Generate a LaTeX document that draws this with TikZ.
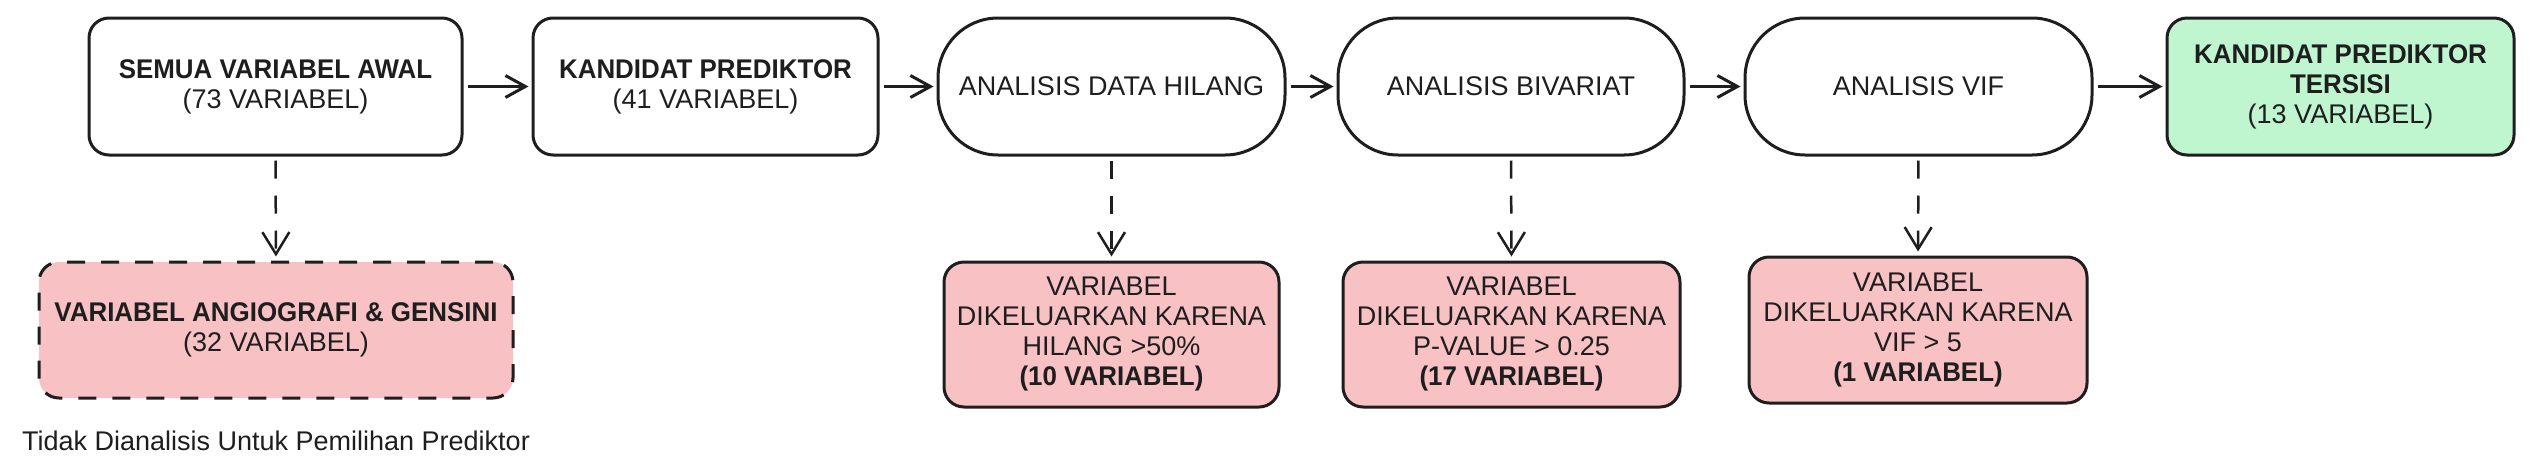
\documentclass[tikz,border=0pt]{standalone}
\usepackage{fontspec}
\setmainfont{Liberation Sans}[BoldFeatures={FakeStretch=0.96}]
\usetikzlibrary{arrows.meta}
\definecolor{ink}{HTML}{1E1E1E}
\definecolor{tolak}{HTML}{F8C1C4}
\definecolor{lolos}{HTML}{BFF6D0}

\begin{document}
\begin{tikzpicture}[x=0.5pt, y=-0.5pt,
    every node/.style={font=\fontsize{13.5}{15}\selectfont, align=center, text=ink},
    kotak/.style={draw=ink, line width=1.5pt, rounded corners=10pt, minimum height=68.5pt, inner sep=2pt},
    proses/.style={kotak, rounded corners=30pt},
    buang/.style={kotak, fill=tolak, minimum height=72.5pt},
    alur/.style={draw=ink, line width=1.5pt, -{Straight Barb[length=10pt,width=11pt]}, shorten <=2pt, shorten >=1.5pt},
    keluar/.style={draw=ink, line width=1.25pt, dash pattern=on 9pt off 8.5pt, -{Straight Barb[length=11pt,width=13.5pt]}, shorten <=2pt, shorten >=2pt}]
  \useasboundingbox (0,0) rectangle (2534,472);

  % jalur utama
  \node [kotak, minimum width=186.5pt] (semua) at (275.5,86.5) {\textbf{SEMUA VARIABEL AWAL}\\(73 VARIABEL)};
  \node [kotak, minimum width=172.5pt] (kandidat) at (705.5,86.5) {\textbf{KANDIDAT PREDIKTOR}\\(41 VARIABEL)};
  \node [proses, minimum width=173.5pt] (hilang) at (1111.5,86.5) {ANALISIS DATA HILANG};
  \node [proses, minimum width=173pt] (bivariat) at (1511,86.5) {ANALISIS BIVARIAT};
  \node [proses, minimum width=173.5pt] (vif) at (1918.5,86.5) {ANALISIS VIF};
  \node [kotak, fill=lolos, minimum width=173.5pt] (tersisi) at (2340.5,86.5) {\textbf{KANDIDAT PREDIKTOR}\\\textbf{TERSISI}\\(13 VARIABEL)};

  \draw [alur] (semua) -- (kandidat);
  \draw [alur] (kandidat) -- (hilang);
  \draw [alur] (hilang) -- (bivariat);
  \draw [alur] (bivariat) -- (vif);
  \draw [alur] (vif) -- (tersisi);

  % variabel yang dikeluarkan
  \node [kotak, fill=tolak, dash pattern=on 9pt off 8pt, minimum width=237pt, minimum height=68pt] (angio) at (276,330) {\textbf{VARIABEL ANGIOGRAFI \& GENSINI}\\(32 VARIABEL)};
  \node (catatan) at (276,441) {Tidak Dianalisis Untuk Pemilihan Prediktor};
  \node [buang, minimum width=167.5pt] (kelhilang) at (1111.5,334.5) {VARIABEL\\DIKELUARKAN KARENA\\HILANG >50\%\\\textbf{(10 VARIABEL)}};
  \node [buang, minimum width=168.5pt] (kelbivariat) at (1511.5,334.5) {VARIABEL\\DIKELUARKAN KARENA\\P-VALUE > 0.25\\\textbf{(17 VARIABEL)}};
  \node [buang, minimum width=169pt, minimum height=73pt] (kelvif) at (1918,330) {VARIABEL\\DIKELUARKAN KARENA\\VIF > 5\\\textbf{(1 VARIABEL)}};

  \draw [keluar] (semua.south) -- (angio.north);
  \draw [keluar] (hilang.south) -- (kelhilang.north);
  \draw [keluar] (bivariat.south) -- (kelbivariat.north);
  \draw [keluar] (vif.south) -- (kelvif.north);
\end{tikzpicture}
\end{document}
